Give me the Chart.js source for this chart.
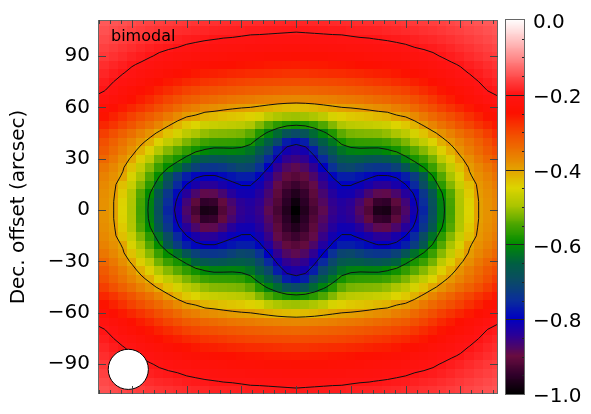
<!DOCTYPE html>
<html>
<head>
<meta charset="utf-8">
<script src="https://cdn.jsdelivr.net/npm/chart.js@4.4.1/dist/chart.umd.min.js"></script>
<style>
  html, body { margin: 0; padding: 0; background: #fff; }
  #wrap { width: 591px; height: 414px; }
</style>
</head>
<body>
<div id="wrap"><canvas id="map"></canvas></div>
<script>
// grid offsets (arcsec) of one quadrant; map is symmetric in RA and Dec
const offsets = [0, 5, 10, 15, 20, 25, 30, 35, 40, 45, 50, 55, 60, 65, 70, 75, 80, 85, 90, 95, 100, 105, 110];

// fluxRows[iDec][iRa] = value at (offsets[iRa], offsets[iDec])
const fluxRows = [
  [-1.00, -0.965, -0.93, -0.89, -0.855, -0.84, -0.85, -0.88, -0.92, -0.97, -0.975, -0.93, -0.875, -0.82, -0.76, -0.69, -0.615, -0.555, -0.495, -0.45, -0.40, -0.385, -0.372],
  [-0.985, -0.955, -0.92, -0.88, -0.85, -0.835, -0.845, -0.87, -0.905, -0.945, -0.95, -0.91, -0.865, -0.81, -0.75, -0.685, -0.612, -0.552, -0.493, -0.448, -0.40, -0.384, -0.371],
  [-0.965, -0.945, -0.91, -0.87, -0.838, -0.818, -0.82, -0.84, -0.87, -0.89, -0.893, -0.873, -0.84, -0.79, -0.735, -0.67, -0.60, -0.545, -0.49, -0.44, -0.395, -0.38, -0.367],
  [-0.94, -0.925, -0.895, -0.855, -0.82, -0.797, -0.797, -0.81, -0.825, -0.842, -0.844, -0.825, -0.80, -0.755, -0.695, -0.63, -0.57, -0.52, -0.47, -0.43, -0.39, -0.375, -0.36],
  [-0.915, -0.905, -0.875, -0.835, -0.795, -0.77, -0.768, -0.778, -0.79, -0.803, -0.802, -0.792, -0.768, -0.725, -0.67, -0.597, -0.545, -0.50, -0.455, -0.405, -0.383, -0.367, -0.35],
  [-0.89, -0.878, -0.85, -0.80, -0.745, -0.71, -0.705, -0.718, -0.732, -0.737, -0.735, -0.716, -0.677, -0.632, -0.598, -0.56, -0.517, -0.474, -0.432, -0.395, -0.373, -0.355, -0.337],
  [-0.86, -0.85, -0.815, -0.755, -0.705, -0.668, -0.66, -0.663, -0.672, -0.676, -0.669, -0.649, -0.613, -0.583, -0.56, -0.528, -0.481, -0.443, -0.407, -0.38, -0.357, -0.338, -0.322],
  [-0.83, -0.82, -0.77, -0.705, -0.664, -0.628, -0.614, -0.61, -0.612, -0.613, -0.604, -0.588, -0.566, -0.542, -0.518, -0.488, -0.445, -0.415, -0.385, -0.362, -0.342, -0.323, -0.307],
  [-0.785, -0.77, -0.705, -0.657, -0.624, -0.586, -0.569, -0.565, -0.564, -0.563, -0.557, -0.542, -0.523, -0.50, -0.476, -0.448, -0.414, -0.39, -0.37, -0.35, -0.331, -0.311, -0.292],
  [-0.70, -0.68, -0.64, -0.61, -0.577, -0.54, -0.525, -0.522, -0.52, -0.518, -0.511, -0.496, -0.481, -0.458, -0.434, -0.408, -0.385, -0.366, -0.347, -0.329, -0.311, -0.293, -0.275],
  [-0.59, -0.584, -0.57, -0.547, -0.52, -0.493, -0.482, -0.478, -0.474, -0.47, -0.465, -0.45, -0.438, -0.417, -0.393, -0.37, -0.35, -0.334, -0.316, -0.299, -0.283, -0.27, -0.258],
  [-0.505, -0.503, -0.495, -0.48, -0.456, -0.446, -0.438, -0.435, -0.43, -0.423, -0.418, -0.404, -0.395, -0.376, -0.358, -0.34, -0.325, -0.31, -0.295, -0.28, -0.266, -0.253, -0.24],
  [-0.428, -0.425, -0.42, -0.413, -0.406, -0.40, -0.397, -0.392, -0.386, -0.38, -0.376, -0.364, -0.356, -0.34, -0.325, -0.31, -0.294, -0.282, -0.27, -0.258, -0.246, -0.234, -0.222],
  [-0.373, -0.372, -0.37, -0.367, -0.364, -0.36, -0.357, -0.353, -0.348, -0.342, -0.338, -0.33, -0.324, -0.311, -0.299, -0.286, -0.272, -0.261, -0.248, -0.236, -0.224, -0.212, -0.203],
  [-0.337, -0.336, -0.334, -0.332, -0.33, -0.327, -0.324, -0.321, -0.317, -0.312, -0.309, -0.302, -0.296, -0.286, -0.276, -0.266, -0.255, -0.245, -0.235, -0.225, -0.21, -0.199, -0.195],
  [-0.308, -0.307, -0.306, -0.304, -0.302, -0.30, -0.297, -0.294, -0.29, -0.286, -0.283, -0.277, -0.272, -0.264, -0.257, -0.248, -0.238, -0.228, -0.218, -0.209, -0.20, -0.193, -0.187],
  [-0.282, -0.282, -0.28, -0.278, -0.276, -0.275, -0.272, -0.27, -0.267, -0.264, -0.262, -0.257, -0.252, -0.246, -0.238, -0.231, -0.223, -0.214, -0.206, -0.199, -0.193, -0.186, -0.18],
  [-0.261, -0.26, -0.259, -0.258, -0.256, -0.255, -0.253, -0.25, -0.248, -0.245, -0.243, -0.238, -0.234, -0.228, -0.223, -0.217, -0.21, -0.203, -0.198, -0.192, -0.186, -0.179, -0.173],
  [-0.242, -0.241, -0.24, -0.239, -0.237, -0.236, -0.234, -0.232, -0.23, -0.228, -0.225, -0.222, -0.218, -0.214, -0.209, -0.204, -0.198, -0.193, -0.188, -0.182, -0.176, -0.17, -0.165],
  [-0.225, -0.224, -0.223, -0.222, -0.221, -0.22, -0.218, -0.217, -0.215, -0.213, -0.211, -0.207, -0.204, -0.20, -0.197, -0.194, -0.19, -0.185, -0.179, -0.174, -0.168, -0.163, -0.158],
  [-0.211, -0.21, -0.209, -0.208, -0.207, -0.206, -0.204, -0.202, -0.201, -0.199, -0.197, -0.195, -0.193, -0.19, -0.187, -0.184, -0.18, -0.176, -0.171, -0.166, -0.161, -0.156, -0.151],
  [-0.197, -0.196, -0.195, -0.194, -0.193, -0.193, -0.191, -0.19, -0.189, -0.188, -0.186, -0.184, -0.182, -0.18, -0.177, -0.174, -0.171, -0.167, -0.163, -0.158, -0.154, -0.149, -0.145],
  [-0.186, -0.185, -0.184, -0.183, -0.182, -0.181, -0.18, -0.179, -0.178, -0.177, -0.175, -0.173, -0.171, -0.169, -0.167, -0.164, -0.162, -0.158, -0.154, -0.15, -0.147, -0.143, -0.14]
];

const contourLevels = [-0.8, -0.6, -0.4, -0.2];
const decTicks = [-90, -60, -30, 0, 30, 60, 90];
const raTicks = [-90, -60, -30, 0, 30, 60, 90];
const scaleTicks = [0, -0.2, -0.4, -0.6, -0.8, -1.0];
const beamRa = -92, beamDec = -93, beamFwhm = 22;
const mapLabel = "bimodal";

// colour table
const cmapStops = [-1.0, -0.95, -0.9, -0.85, -0.8, -0.75, -0.7, -0.65, -0.6, -0.55, -0.5, -0.45, -0.4, -0.35, -0.3, -0.25, -0.2, -0.15, -0.1, -0.05, 0.0];
const cmapColors = ["#000000", "#30002a", "#680c40", "#300090", "#0000c2", "#0a2e9a", "#0a4a66", "#006040", "#008c00", "#48a400",
  "#a8c400", "#dcd400", "#e4a000", "#ec7200", "#f44600", "#fd1000", "#ff1414", "#ff5050", "#ff8e8e", "#ffc8c8", "#ffffff"];

function hexRgb(h) {
  return [parseInt(h.slice(1, 3), 16), parseInt(h.slice(3, 5), 16), parseInt(h.slice(5, 7), 16)];
}
const cmapRgb = cmapColors.map(hexRgb);

function colorFor(v) {
  if (v <= cmapStops[0]) return "rgb(" + cmapRgb[0].join(",") + ")";
  for (let i = 1; i < cmapStops.length; i++) {
    if (v <= cmapStops[i]) {
      const t = (v - cmapStops[i - 1]) / (cmapStops[i] - cmapStops[i - 1]);
      const a = cmapRgb[i - 1], b = cmapRgb[i];
      return "rgb(" + [0, 1, 2].map(k => Math.round(a[k] + t * (b[k] - a[k]))).join(",") + ")";
    }
  }
  return "rgb(255,255,255)";
}

// full grid by mirroring the quadrant
const nodes = offsets.slice(1).reverse().map(v => -v).concat(offsets);
const grid = nodes.map(dec => nodes.map(ra =>
  fluxRows[offsets.indexOf(Math.abs(dec))][offsets.indexOf(Math.abs(ra))]));

function contourSegments(level) {
  const segs = [];
  for (let j = 0; j < nodes.length - 1; j++) {
    for (let i = 0; i < nodes.length - 1; i++) {
      const v = [grid[j][i], grid[j][i + 1], grid[j + 1][i + 1], grid[j + 1][i]];
      const p = [[nodes[i], nodes[j]], [nodes[i + 1], nodes[j]], [nodes[i + 1], nodes[j + 1]], [nodes[i], nodes[j + 1]]];
      const pts = [];
      for (let e = 0; e < 4; e++) {
        const a = v[e], b = v[(e + 1) % 4];
        if ((a < level) !== (b < level)) {
          const t = (level - a) / (b - a);
          const pa = p[e], pb = p[(e + 1) % 4];
          pts.push([pa[0] + t * (pb[0] - pa[0]), pa[1] + t * (pb[1] - pa[1])]);
        }
      }
      if (pts.length === 2) segs.push(pts);
      else if (pts.length === 4) { segs.push([pts[0], pts[1]]); segs.push([pts[2], pts[3]]); }
    }
  }
  return segs;
}

const fmt = v => (v < 0 ? "\u2212" : "") + Math.abs(v);
const fmt1 = v => (v < 0 ? "\u2212" : "") + Math.abs(v).toFixed(1);

const mapPlugin = {
  id: "mapPlugin",
  beforeDatasetsDraw(chart) {
    const ctx = chart.ctx, area = chart.chartArea;
    const xs = chart.scales.x, ys = chart.scales.y;
    ctx.save();
    ctx.beginPath();
    ctx.rect(area.left, area.top, area.right - area.left, area.bottom - area.top);
    ctx.clip();
    const half = 2.5;
    for (let j = 0; j < nodes.length; j++) {
      for (let i = 0; i < nodes.length; i++) {
        const x0 = Math.floor(xs.getPixelForValue(nodes[i] - half));
        const x1 = Math.ceil(xs.getPixelForValue(nodes[i] + half));
        const y0 = Math.floor(ys.getPixelForValue(nodes[j] + half));
        const y1 = Math.ceil(ys.getPixelForValue(nodes[j] - half));
        ctx.fillStyle = colorFor(grid[j][i]);
        ctx.fillRect(x0, y0, x1 - x0, y1 - y0);
      }
    }
    // contours
    ctx.strokeStyle = "#111";
    ctx.lineWidth = 1;
    ctx.beginPath();
    contourLevels.forEach(level => {
      contourSegments(level).forEach(s => {
        ctx.moveTo(xs.getPixelForValue(s[0][0]), ys.getPixelForValue(s[0][1]));
        ctx.lineTo(xs.getPixelForValue(s[1][0]), ys.getPixelForValue(s[1][1]));
      });
    });
    ctx.stroke();
    // beam
    const bx = xs.getPixelForValue(beamRa), by = ys.getPixelForValue(beamDec);
    const br = xs.getPixelForValue(beamRa + beamFwhm / 2) - bx;
    ctx.beginPath();
    ctx.arc(bx, by, br, 0, Math.PI * 2);
    ctx.fillStyle = "#fff";
    ctx.fill();
    ctx.strokeStyle = "#000";
    ctx.stroke();
    ctx.restore();

    // label
    ctx.save();
    ctx.fillStyle = "#000";
    ctx.font = "16px 'DejaVu Sans'";
    ctx.textBaseline = "alphabetic";
    ctx.fillText(mapLabel, area.left + 13, area.top + 21);
    ctx.restore();
  },
  afterDatasetsDraw(chart) {
    const ctx = chart.ctx, area = chart.chartArea;
    const xs = chart.scales.x, ys = chart.scales.y, cs = chart.scales.cbar;
    ctx.save();
    // frame
    ctx.strokeStyle = "#666";
    ctx.lineWidth = 1;
    ctx.strokeRect(area.left + 0.5, area.top + 0.5, area.right - area.left - 1, area.bottom - area.top - 1);
    // ticks pointing inward
    ctx.strokeStyle = "#444";
    ctx.beginPath();
    for (let v = -108; v <= 108; v += 6) {
      const px = Math.round(xs.getPixelForValue(v)) + 0.5;
      const len = raTicks.includes(v) ? 8 : 4;
      ctx.moveTo(px, area.bottom); ctx.lineTo(px, area.bottom - len);
      ctx.moveTo(px, area.top); ctx.lineTo(px, area.top + len);
    }
    decTicks.forEach(v => {
      const py = Math.round(ys.getPixelForValue(v)) + 0.5;
      ctx.moveTo(area.left, py); ctx.lineTo(area.left + 8, py);
      ctx.moveTo(area.right, py); ctx.lineTo(area.right - 8, py);
    });
    ctx.stroke();

    // colour bar
    const cl = area.right + 7, cw = 20;
    const top = cs.getPixelForValue(0), bot = cs.getPixelForValue(-1);
    for (let v = 0; v > -1; v -= 0.0025) {
      const p0 = Math.floor(cs.getPixelForValue(v));
      const p1 = Math.ceil(cs.getPixelForValue(v - 0.0025));
      ctx.fillStyle = colorFor(v - 0.00125);
      ctx.fillRect(cl, p0, cw, p1 - p0);
    }
    ctx.strokeStyle = "#222";
    ctx.beginPath();
    scaleTicks.forEach(v => {
      if (v === 0 || v === -1) return;
      const py = Math.round(cs.getPixelForValue(v)) + 0.5;
      ctx.moveTo(cl, py); ctx.lineTo(cl + cw, py);
    });
    for (let k = 1; k < 20; k++) {
      if (k % 4 === 0) continue;
      const py = Math.round(cs.getPixelForValue(-k * 0.05)) + 0.5;
      ctx.moveTo(cl + cw, py); ctx.lineTo(cl + cw - 3, py);
    }
    ctx.stroke();
    ctx.strokeStyle = "#666";
    ctx.strokeRect(cl + 0.5, top - 0.5, cw - 1, bot - top + 1);
    ctx.fillStyle = "#000";
    ctx.font = "20px 'DejaVu Sans'";
    ctx.textAlign = "left";
    ctx.textBaseline = "middle";
    scaleTicks.forEach(v => {
      const py = Math.min(400, Math.max(16, cs.getPixelForValue(v) + 3));
      ctx.fillText(fmt1(v), cl + 28, py);
    });
    ctx.restore();
  }
};

new Chart(document.getElementById("map"), {
  type: "scatter",
  data: { datasets: [{ data: [], pointRadius: 0 }] },
  options: {
    responsive: true,
    maintainAspectRatio: false,
    animation: false,
    devicePixelRatio: 1,
    layout: { padding: { top: 8, bottom: 7, left: 0, right: 93 } },
    plugins: { legend: { display: false }, tooltip: { enabled: false } },
    scales: {
      x: { type: "linear", min: -108.6, max: 110.6, display: false },
      y: {
        type: "linear",
        min: -107.4,
        max: 111,
        afterBuildTicks: s => { s.ticks = decTicks.map(v => ({ value: v })); },
        afterFit: s => { s.width = 98; },
        grid: { display: false, drawTicks: false },
        border: { display: false },
        ticks: {
          color: "#000",
          padding: 8,
          font: { family: "DejaVu Sans", size: 20 },
          callback: v => fmt(v)
        },
        title: {
          display: true,
          text: "Dec. offset (arcsec)",
          color: "#000",
          font: { family: "DejaVu Sans", size: 20 },
          padding: { top: 7, bottom: 0 }
        }
      },
      cbar: {
        type: "linear", axis: "y", position: "right", min: -1, max: 0,
        grid: { display: false, drawTicks: false },
        border: { display: false },
        ticks: { display: false },
        afterFit: s => { s.width = 0; }
      }
    }
  },
  plugins: [mapPlugin]
});
</script>
</body>
</html>
